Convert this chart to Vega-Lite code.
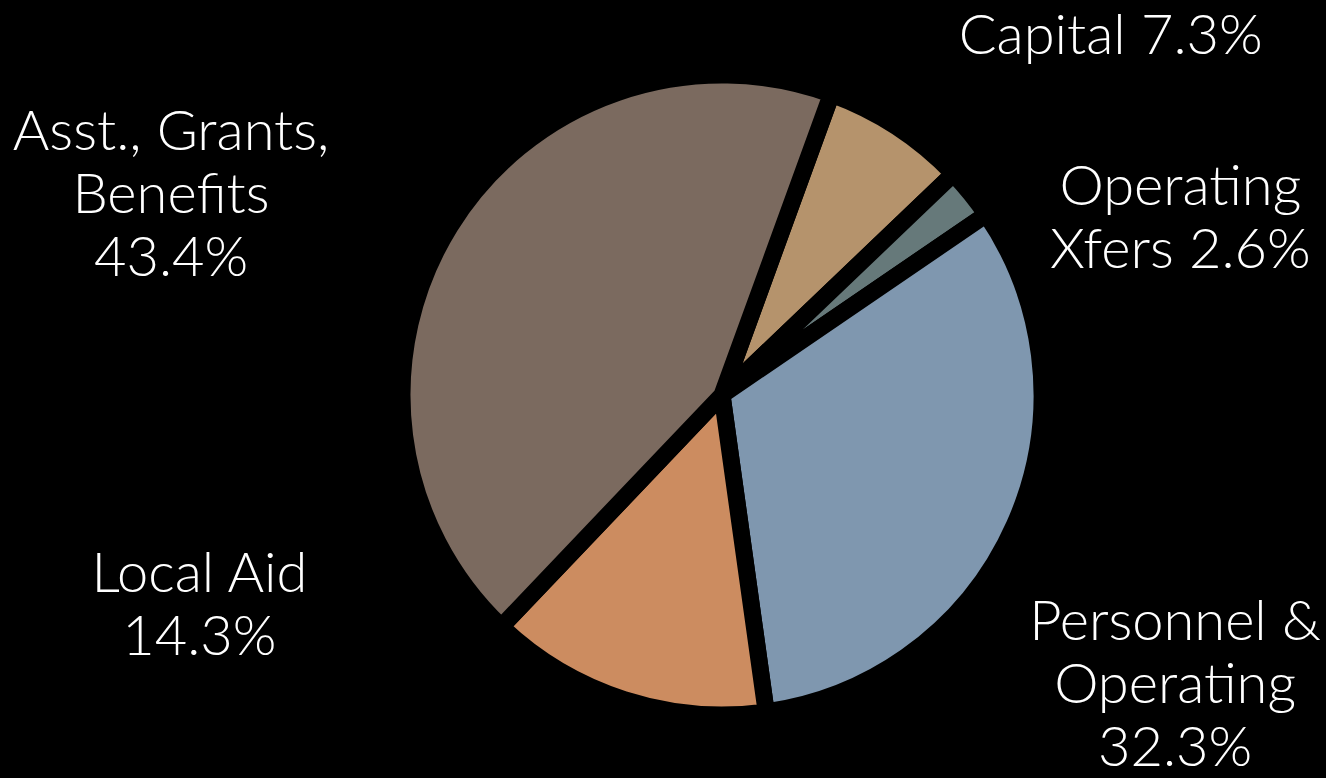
{
  "$schema": "https://vega.github.io/schema/vega-lite/v6.json",
  "width": 1208,
  "height": 766,
  "autosize": {"type": "none"},
  "padding": {"left": 118, "right": 0, "top": 12, "bottom": 0},
  "background": "#000000",
  "config": {"view": {"stroke": null}},
  "data": {
    "values": [
      {"category": "Capital", "value": 7.3, "order": 1, "label": "Capital 7.3%"},
      {"category": "Operating Xfers", "value": 2.6, "order": 2, "label": "Operating\nXfers 2.6%"},
      {"category": "Personnel & Operating", "value": 32.3, "order": 3, "label": "Personnel &\nOperating\n32.3%"},
      {"category": "Local Aid", "value": 14.3, "order": 4, "label": "Local Aid\n14.3%"},
      {"category": "Asst., Grants, Benefits", "value": 43.4, "order": 5, "label": "Asst., Grants,\nBenefits\n43.4%"}
    ]
  },
  "encoding": {
    "theta": {"field": "value", "type": "quantitative", "stack": true, "scale": {"range": [0.349, 6.632]}},
    "order": {"field": "order", "type": "quantitative", "sort": "ascending"}
  },
  "layer": [
    {
      "mark": {"type": "arc", "outerRadius": 320, "stroke": "#000000", "strokeWidth": 17, "strokeJoin": "bevel"},
      "encoding": {
        "color": {
          "field": "category",
          "type": "nominal",
          "scale": {
            "domain": ["Capital", "Operating Xfers", "Personnel & Operating", "Local Aid", "Asst., Grants, Benefits"],
            "range": ["#B5936C", "#66797A", "#7F97AF", "#CC8C60", "#7B6A5F"]
          },
          "legend": null
        }
      }
    },
    {
      "mark": {
        "type": "text",
        "radius": 420,
        "fontSize": 56,
        "font": "Lato",
        "fontWeight": 300,
        "color": "#ffffff",
        "align": "center",
        "baseline": "middle",
        "lineBreak": "\n",
        "lineHeight": 63,
        "dx": {"expr": "datum.order==1?159:datum.order==2?132:datum.order==3?69:datum.order==4?-394:-194"},
        "dy": {"expr": "datum.order==1?-6:datum.order==2?57:datum.order==3?58:datum.order==4?-220:-41"}
      },
      "encoding": {"text": {"field": "label", "type": "nominal"}}
    }
  ]
}
